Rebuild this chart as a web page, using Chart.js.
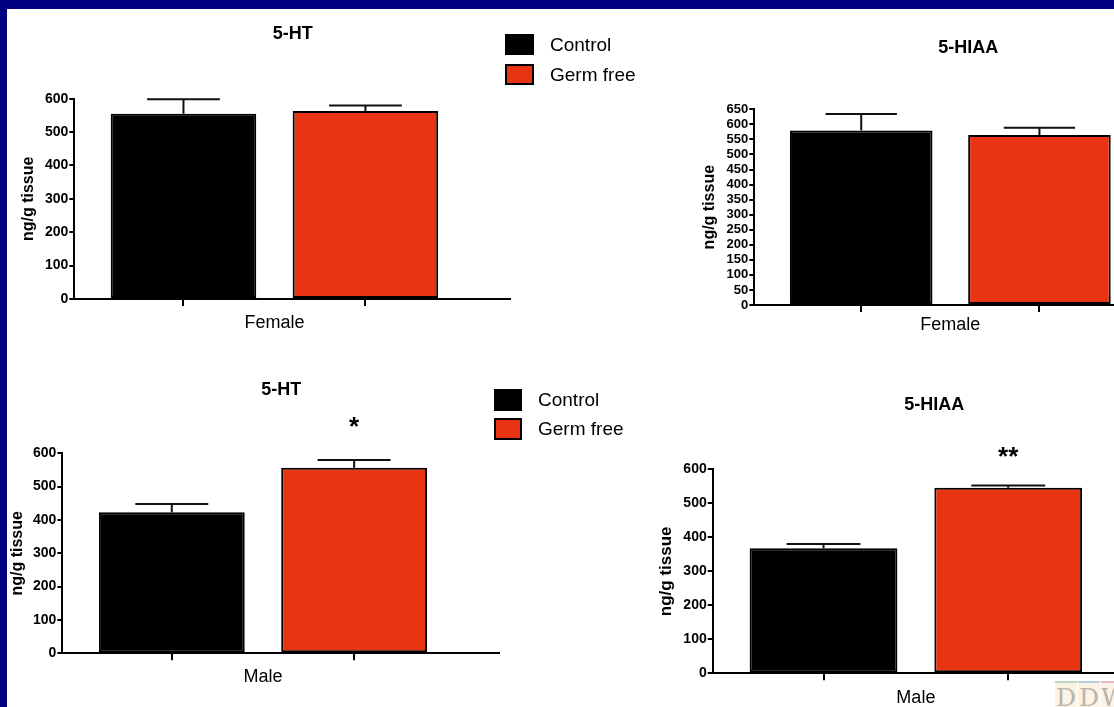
<!DOCTYPE html>
<html>
<head>
<meta charset="utf-8">
<script src="https://cdn.jsdelivr.net/npm/chart.js@4.4.0/dist/chart.umd.min.js"></script>
<style>
  html, body { margin:0; padding:0; width:1114px; height:707px; overflow:hidden; background:#000080; }
  #sheet { position:absolute; left:7px; top:9px; width:1107px; height:698px; background:#ffffff; }
  canvas { position:absolute; }
  .legend { position:absolute; font-family:"Liberation Sans", Arial, Helvetica, sans-serif; font-size:19px; color:#000; }
  .legend .row { position:absolute; left:0; display:flex; align-items:center; white-space:nowrap; }
  .legend .box { box-sizing:border-box; border:2px solid #000; }
  .legend .txt { margin-left:16px; }
  #wm { position:absolute; left:1055px; top:681px; display:flex; font-family:"DejaVu Serif", "Liberation Serif", serif; font-size:25px; color:#b9b4ad; }
  #wm span { display:block; width:22px; height:30px; line-height:30px; text-align:center; background:#fcf3e4; border-top:2px solid; margin-right:1px; }
</style>
</head>
<body>
<div id="sheet"></div>
<div id="wm"><span style="border-color:#bcd8c0">D</span><span style="border-color:#b8cde6">D</span><span style="border-color:#e6bccb">W</span></div>
<script>
// ---------------- data ----------------
const seriesNames    = ['Control', 'Germ free'];
const seriesColors   = ['#000000', '#E83412'];
const panelTitles    = ['5-HT', '5-HIAA', '5-HT', '5-HIAA'];
const groupLabels    = ['Female', 'Female', 'Male', 'Male'];
const yAxisLabel     = 'ng/g tissue';
const yMax           = [600, 650, 600, 600];
const yStep          = [100, 50, 100, 100];
const controlMeans   = [555, 580, 423, 368];
const controlErrors  = [43, 54, 25, 12];
const germFreeMeans  = [563, 565, 557, 546];
const germFreeErrors = [17, 24, 23, 6];
const significance   = ['', '', '*', '**'];   // germ free vs control

// ---------------- layout / style ----------------
const FONT = '"Liberation Sans", Arial, Helvetica, sans-serif';
Chart.defaults.font.family = FONT;
Chart.defaults.color = '#000';

const panelLayout = [
  {left:10,  top:10,  width:501, height:340, yAxisW:64.3, xAxisH:51,   titlePad:[13.2,53.9], yTitleSize:16, yTitlePad:9,    tickSize:14, groupOffset:24,   starOffset:40},
  {left:690, top:10,  width:492, height:340, yAxisW:64.3, xAxisH:45,   titlePad:[27.2,50.5], yTitleSize:16, yTitlePad:10.4, tickSize:13, groupOffset:20,   starOffset:40},
  {left:0,   top:360, width:500, height:347, yAxisW:62.4, xAxisH:53.7, titlePad:[19.2,52.5], yTitleSize:16, yTitlePad:7.5,  tickSize:14, groupOffset:23.4, starOffset:40},
  {left:640, top:360, width:516, height:347, yAxisW:72.7, xAxisH:33.7, titlePad:[34.2,53.5], yTitleSize:17, yTitlePad:15.8, tickSize:14, groupOffset:24.7, starOffset:35}
];
const legendLayout = [
  {panel:0, left:505, top:34,  boxW:29, boxH:21, rowGap:30},
  {panel:2, left:494, top:389, boxW:28, boxH:22, rowGap:29}
];

const barPos = seriesNames.map((_, s) => s + 1);   // index position of each series bar

const extrasPlugin = {
  id: 'panelExtras',
  afterDatasetsDraw(chart, args, opts) {
    const {ctx, scales: {x, y}, chartArea} = chart;
    ctx.save();
    chart.data.datasets.forEach((ds, i) => {
      const meta = chart.getDatasetMeta(i);
      meta.data.forEach((bar, j) => {
        const top = y.getPixelForValue(ds.data[j].y + ds.errors[j]);
        const half = bar.width / 4;
        ctx.strokeStyle = '#111';
        ctx.lineWidth = 2;
        ctx.beginPath();
        ctx.moveTo(bar.x, bar.y);
        ctx.lineTo(bar.x, top);
        ctx.moveTo(bar.x - half, top);
        ctx.lineTo(bar.x + half, top);
        ctx.stroke();
        const mark = ds.marks[j];
        if (mark) {
          const size = 26;
          ctx.font = 'bold ' + size + 'px ' + FONT;
          ctx.fillStyle = '#000';
          ctx.textAlign = 'center';
          ctx.textBaseline = 'alphabetic';
          ctx.fillText(mark, bar.x, top - opts.starOffset + 0.57 * size);
        }
      });
    });
    // group (category) label centred under the pair of bars
    const mid = barPos.reduce((a, b) => a + b, 0) / barPos.length;
    ctx.font = '18px ' + FONT;
    ctx.fillStyle = '#000';
    ctx.textAlign = 'center';
    ctx.textBaseline = 'middle';
    ctx.fillText(opts.groupLabel, x.getPixelForValue(mid), chartArea.bottom + opts.groupOffset);
    ctx.restore();
  }
};

panelTitles.forEach((title, p) => {
  const L = panelLayout[p];
  const canvas = document.createElement('canvas');
  canvas.width = L.width; canvas.height = L.height;
  canvas.style.left = L.left + 'px'; canvas.style.top = L.top + 'px';
  canvas.style.width = L.width + 'px'; canvas.style.height = L.height + 'px';
  document.body.appendChild(canvas);

  const means = [controlMeans[p], germFreeMeans[p]];
  const errs = [controlErrors[p], germFreeErrors[p]];
  const marks = ['', significance[p]];

  new Chart(canvas, {
    type: 'bar',
    data: {
      datasets: seriesNames.map((name, s) => ({
        label: name,
        data: [{x: barPos[s], y: means[s]}],
        errors: [errs[s]],
        marks: [marks[s]],
        backgroundColor: seriesColors[s],
        borderColor: '#000',
        borderWidth: 2,
        borderSkipped: false,
        grouped: false,
        barPercentage: 0.8,
        categoryPercentage: 1.0
      }))
    },
    options: {
      responsive: false,
      animation: false,
      events: [],
      layout: { padding: 0 },
      scales: {
        x: {
          type: 'linear',
          offset: false,
          min: 0.4, max: 2.8,
          afterBuildTicks: (s) => { s.ticks = barPos.map(v => ({value: v})); },
          afterFit: (s) => { s.height = L.xAxisH; },
          ticks: { display: false },
          grid: { offset: false, drawOnChartArea: false, drawTicks: true, tickLength: 7, color: '#000', lineWidth: 2 },
          border: { display: true, color: '#000', width: 2 }
        },
        y: {
          min: 0, max: yMax[p],
          afterFit: (s) => { s.width = L.yAxisW; },
          ticks: { stepSize: yStep[p], autoSkip: false, color: '#000', padding: 1, font: { size: L.tickSize, weight: 'bold' } },
          grid: { drawOnChartArea: false, drawTicks: true, tickLength: 5, color: '#000', lineWidth: 2 },
          border: { display: true, color: '#000', width: 2 },
          title: { display: true, text: yAxisLabel, color: '#000', font: { size: L.yTitleSize, weight: 'bold' }, padding: { top: L.yTitlePad, bottom: 0 } }
        }
      },
      plugins: {
        legend: { display: false },
        tooltip: { enabled: false },
        title: {
          display: true, text: title, fullSize: false, color: '#000',
          font: { size: 18, weight: 'bold' },
          padding: { top: L.titlePad[0], bottom: L.titlePad[1] }
        },
        panelExtras: { groupLabel: groupLabels[p], groupOffset: L.groupOffset, starOffset: L.starOffset }
      }
    },
    plugins: [extrasPlugin]
  });
});

// HTML legends for the left-hand panels
legendLayout.forEach(g => {
  const div = document.createElement('div');
  div.className = 'legend';
  div.style.left = g.left + 'px';
  div.style.top = g.top + 'px';
  seriesNames.forEach((name, s) => {
    const row = document.createElement('div');
    row.className = 'row';
    row.style.top = (s * g.rowGap) + 'px';
    row.style.height = g.boxH + 'px';
    const box = document.createElement('div');
    box.className = 'box';
    box.style.width = g.boxW + 'px';
    box.style.height = g.boxH + 'px';
    box.style.background = seriesColors[s];
    const txt = document.createElement('span');
    txt.className = 'txt';
    txt.textContent = name;
    row.appendChild(box); row.appendChild(txt);
    div.appendChild(row);
  });
  document.body.appendChild(div);
});
</script>
</body>
</html>
